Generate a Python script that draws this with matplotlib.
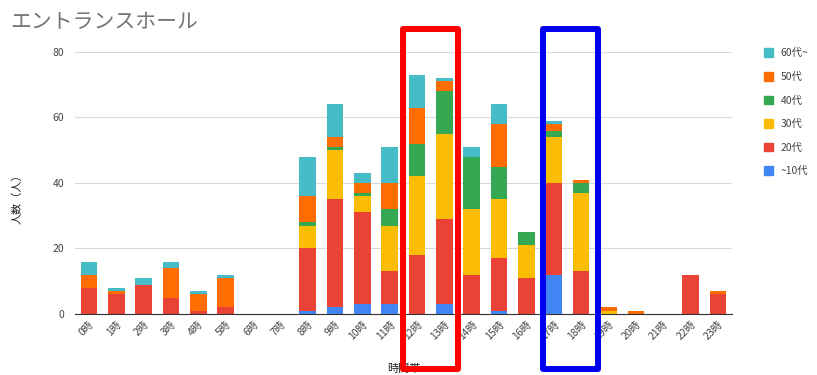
import matplotlib
matplotlib.use("Agg")
import matplotlib.pyplot as plt
import matplotlib.transforms as mtransforms
from matplotlib.patches import Rectangle, Patch
import numpy as np

plt.rcParams["font.family"] = ["Noto Sans CJK JP", "DejaVu Sans"]

hours = [f"{h}時" for h in range(24)]

# 人数 per age group (bottom to top of the stack)
age_10 = [0, 0, 0, 0, 0, 0, 0, 0, 1, 2, 3, 3, 0, 3, 0, 1, 0, 12, 0, 0, 0, 0, 0, 0]
age_20 = [8, 6, 9, 5, 1, 2, 0, 0, 19, 33, 28, 10, 18, 26, 12, 16, 11, 28, 13, 0, 0, 0, 12, 6]
age_30 = [0, 0, 0, 0, 0, 0, 0, 0, 7, 15, 5, 14, 24, 26, 20, 18, 10, 14, 24, 1, 0, 0, 0, 0]
age_40 = [0, 0, 0, 0, 0, 0, 0, 0, 1, 1, 1, 5, 10, 13, 16, 10, 4, 2, 3, 0, 0, 0, 0, 0]
age_50 = [4, 1, 0, 9, 5, 9, 0, 0, 8, 3, 3, 8, 11, 3, 0, 13, 0, 2, 1, 1, 1, 0, 0, 1]
age_60 = [4, 1, 2, 2, 1, 1, 0, 0, 12, 10, 3, 11, 10, 1, 3, 6, 0, 1, 0, 0, 0, 0, 0, 0]

series = [age_10, age_20, age_30, age_40, age_50, age_60]
labels = ["~10代", "20代", "30代", "40代", "50代", "60代~"]
colors = ["#4285F4", "#EA4335", "#FBBC04", "#34A853", "#FF6D01", "#46BDC6"]

# highlighted hour ranges (red: 12-13時, blue: 17-18時)
highlights = [((11.5, 13.5), "#FF0000"), ((16.6, 18.6), "#0000EE")]

fig = plt.figure(figsize=(8.17, 3.75), dpi=100)
ax = fig.add_axes([0.0922, 0.1627, 0.8032, 0.6987])

x = np.arange(len(hours))
bottom = np.zeros(len(hours))
for vals, lab, col in zip(series, labels, colors):
    ax.bar(x, vals, bottom=bottom, width=0.61, color=col, label=lab, zorder=2)
    bottom += np.array(vals)

ax.set_xlim(-0.5, 23.5)
ax.set_ylim(0, 80)
ax.set_yticks([0, 20, 40, 60, 80])
ax.grid(axis="y", color="#d9d9d9", linewidth=0.8, zorder=0)
for s in ["top", "right", "left"]:
    ax.spines[s].set_visible(False)
ax.spines["bottom"].set_color("#333333")
ax.spines["bottom"].set_zorder(3)
ax.tick_params(axis="both", length=0, colors="#444444", labelsize=7.5)
ax.tick_params(axis="y", pad=8)
ax.set_xticks(x)
ax.set_xticklabels(hours, rotation=45, ha="right", rotation_mode="anchor")

ax.set_ylabel("人数（人）", fontsize=8, color="#222222")
ax.yaxis.set_label_coords(-0.08, 0.45)
ax.set_xlabel("時間帯", fontsize=8, color="#222222", labelpad=16)

fig.text(0.012, 0.925, "エントランスホール", fontsize=15, color="#757575")

handles = [Patch(color=c, label=l) for c, l in zip(colors[::-1], labels[::-1])]
leg = ax.legend(handles=handles, loc="upper left", bbox_to_anchor=(1.035, 1.05),
                frameon=False, fontsize=7.5, handlelength=0.9, handleheight=0.9,
                handletextpad=0.7, labelspacing=1.3, labelcolor="#444444")

# highlight boxes: x in data units, y in figure fraction
trans = mtransforms.blended_transform_factory(ax.transData, fig.transFigure)
for (x0, x1), col in highlights:
    rect = Rectangle((x0, 0.016), x1 - x0, 0.907, transform=trans, fill=False,
                     edgecolor=col, linewidth=4.3, joinstyle="round",
                     clip_on=False, zorder=5)
    fig.add_artist(rect)

fig.savefig("out.png", dpi=100)
